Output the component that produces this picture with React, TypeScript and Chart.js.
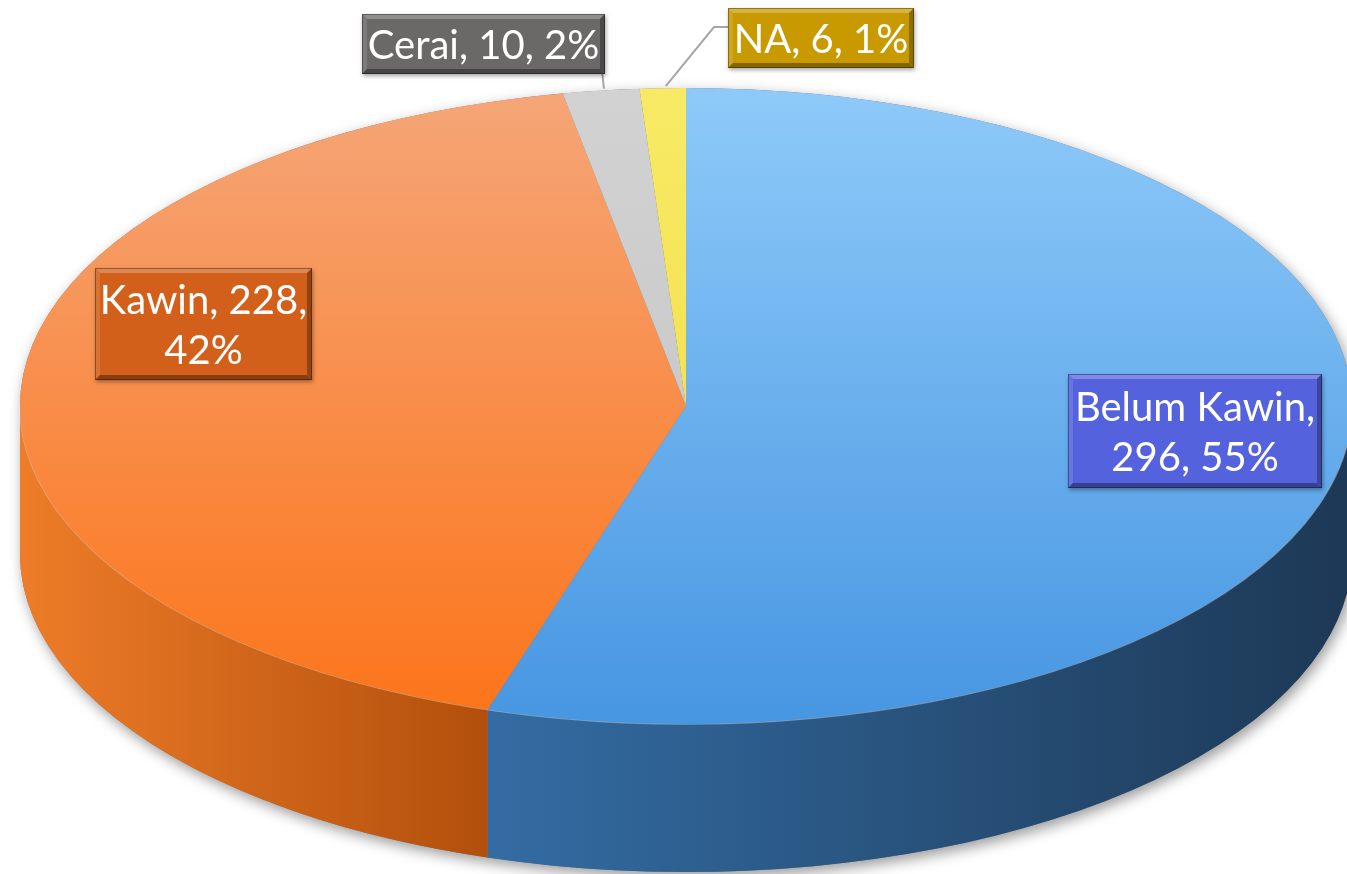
import React, { useEffect, useRef } from 'react';
import { Chart, registerables } from 'chart.js';

Chart.register(...registerables);

// ---- data ----
const categories = ['Belum Kawin', 'Kawin', 'Cerai', 'NA'];
const counts = [296, 228, 10, 6];
const percents = ['55%', '42%', '2%', '1%'];

// ---- colours ----
const topLight = ['#8ecaf9', '#f5a678', '#d2d2d2', '#f8ea66'];
const topDark = ['#4796e2', '#fc7419', '#c2c2c2', '#f1da3c'];
const sideLight = ['#336ca3', '#ee7c28', '#a8a8a8', '#d8c230'];
const sideDark = ['#1d3855', '#b24f0c', '#8a8a8a', '#b8a020'];
const labelColors = ['#5462dd', '#d2601a', '#6b6868', '#c99a00'];

// ---- geometry of the tilted pie (screen space) ----
const CX = 686;
const CY = 406;
const RX = 666;
const RY = 318;
const DEPTH = 148;

// label boxes: [x, y, w, h], number of comma-parts on first line
const labelBoxes = [
  [1068, 374, 254, 114],
  [95, 268, 217, 112],
  [362, 14, 243, 60],
  [728, 8, 186, 60],
];
const firstLineParts = [1, 2, 3, 3];
const FONT = '40px Lato, "Open Sans", sans-serif';

function lerpColor(a: string, b: string, t: number) {
  const pa = [1, 3, 5].map((i) => parseInt(a.slice(i, i + 2), 16));
  const pb = [1, 3, 5].map((i) => parseInt(b.slice(i, i + 2), 16));
  const c = pa.map((v, i) => Math.round(v + (pb[i] - v) * t));
  return `rgb(${c[0]},${c[1]},${c[2]})`;
}

function ellipsePoint(a: number) {
  return { x: CX + RX * Math.cos(a), y: CY + RY * Math.sin(a) };
}

const pie3d = {
  id: 'pie3d',
  beforeDatasetsDraw(chart: any) {
    const ctx: CanvasRenderingContext2D = chart.ctx;
    const arcs = chart.getDatasetMeta(0).data as any[];
    if (!arcs.length) return;
    const p = arcs[0].getProps(['x', 'y', 'outerRadius'], true);

    // soft shadow under the whole disc
    ctx.save();
    ctx.shadowColor = 'rgba(0,0,0,0.4)';
    ctx.shadowBlur = 14;
    ctx.shadowOffsetX = 3;
    ctx.shadowOffsetY = 5;
    ctx.beginPath();
    ctx.ellipse(CX, CY, RX, RY, 0, Math.PI, 2 * Math.PI);
    ctx.ellipse(CX, CY + DEPTH, RX, RY, 0, 0, Math.PI);
    ctx.closePath();
    ctx.fillStyle = '#777';
    ctx.fill();
    ctx.restore();

    // side walls of each slice
    arcs.forEach((arc: any, i: number) => {
      const { startAngle, endAngle } = arc.getProps(['startAngle', 'endAngle'], true);
      for (let k = -1; k <= 1; k++) {
        const s = startAngle + 2 * Math.PI * k;
        const e = endAngle + 2 * Math.PI * k;
        const lo = Math.max(s, 0);
        const hi = Math.min(e, Math.PI);
        if (hi <= lo) continue;
        const xl = CX + RX * Math.cos(hi);
        const xr = CX + RX * Math.cos(lo);
        const g = ctx.createLinearGradient(xl, 0, xr + 0.01, 0);
        g.addColorStop(0, sideLight[i]);
        g.addColorStop(1, sideDark[i]);
        ctx.beginPath();
        ctx.ellipse(CX, CY, RX, RY, 0, lo, hi);
        ctx.ellipse(CX, CY + DEPTH, RX, RY, 0, hi, lo, true);
        ctx.closePath();
        ctx.fillStyle = g;
        ctx.fill();
      }
    });

    // rim highlight
    ctx.save();
    ctx.beginPath();
    ctx.ellipse(CX, CY, RX, RY, 0, 0, Math.PI);
    ctx.strokeStyle = 'rgba(255,255,255,0.35)';
    ctx.lineWidth = 1.5;
    ctx.stroke();
    ctx.restore();

    // top face: squash Chart.js' own circle into the ellipse
    ctx.save();
    ctx.translate(CX, CY);
    ctx.scale(RX / p.outerRadius, RY / p.outerRadius);
    ctx.translate(-p.x, -p.y);
  },
  afterDatasetsDraw(chart: any) {
    chart.ctx.restore();
  },
  afterDraw(chart: any) {
    const ctx: CanvasRenderingContext2D = chart.ctx;
    const arcs = chart.getDatasetMeta(0).data as any[];
    ctx.save();
    // leader lines for small slices
    ctx.strokeStyle = '#a6a6a6';
    ctx.lineWidth = 2;
    [2, 3].forEach((i) => {
      const { startAngle, endAngle } = arcs[i].getProps(['startAngle', 'endAngle'], true);
      const pt = ellipsePoint((startAngle + endAngle) / 2);
      const [bx, by, bw, bh] = labelBoxes[i];
      ctx.beginPath();
      if (i === 2) {
        ctx.moveTo(bx + bw - 3, by + bh - 3);
      } else {
        ctx.moveTo(bx, by + 19);
        ctx.lineTo(bx - 14, by + 19);
      }
      ctx.lineTo(pt.x + 3, pt.y - 2);
      ctx.stroke();
    });

    categories.forEach((cat, i) => {
      const [x, y, w, h] = labelBoxes[i];
      const col = labelColors[i];
      // box with bevel
      ctx.save();
      ctx.shadowColor = 'rgba(0,0,0,0.35)';
      ctx.shadowBlur = 4;
      ctx.shadowOffsetX = 1;
      ctx.shadowOffsetY = 2;
      ctx.fillStyle = col;
      ctx.fillRect(x, y, w, h);
      ctx.restore();
      const b = 5;
      ctx.fillStyle = lerpColor(col, '#ffffff', 0.25);
      ctx.beginPath();
      ctx.moveTo(x, y); ctx.lineTo(x + w, y); ctx.lineTo(x + w - b, y + b); ctx.lineTo(x + b, y + b); ctx.closePath(); ctx.fill();
      ctx.fillStyle = lerpColor(col, '#ffffff', 0.12);
      ctx.beginPath();
      ctx.moveTo(x, y); ctx.lineTo(x + b, y + b); ctx.lineTo(x + b, y + h - b); ctx.lineTo(x, y + h); ctx.closePath(); ctx.fill();
      ctx.fillStyle = lerpColor(col, '#000000', 0.35);
      ctx.beginPath();
      ctx.moveTo(x, y + h); ctx.lineTo(x + w, y + h); ctx.lineTo(x + w - b, y + h - b); ctx.lineTo(x + b, y + h - b); ctx.closePath(); ctx.fill();
      ctx.fillStyle = lerpColor(col, '#000000', 0.3);
      ctx.beginPath();
      ctx.moveTo(x + w, y); ctx.lineTo(x + w, y + h); ctx.lineTo(x + w - b, y + h - b); ctx.lineTo(x + w - b, y + b); ctx.closePath(); ctx.fill();
      ctx.strokeStyle = 'rgba(0,0,0,0.35)';
      ctx.lineWidth = 1;
      ctx.strokeRect(x + 0.5, y + 0.5, w - 1, h - 1);

      // text
      const parts = [cat, String(counts[i]), percents[i]];
      const n = firstLineParts[i];
      const lines: string[] = [];
      const first = parts.slice(0, n).join(', ') + (n < parts.length ? ',' : '');
      lines.push(first);
      if (n < parts.length) lines.push(parts.slice(n).join(', '));
      ctx.fillStyle = '#ffffff';
      ctx.font = FONT;
      ctx.textAlign = 'center';
      ctx.textBaseline = 'middle';
      const lh = 50;
      const startY = y + h / 2 - ((lines.length - 1) * lh) / 2 + 2;
      lines.forEach((ln, j) => ctx.fillText(ln, x + w / 2, startY + j * lh));
    });
    ctx.restore();
  },
};

export default function App() {
  const ref = useRef<HTMLCanvasElement>(null);
  useEffect(() => {
    document.body.style.margin = '0';
    const chart = new Chart(ref.current as HTMLCanvasElement, {
      type: 'pie',
      data: {
        labels: categories,
        datasets: [
          {
            data: counts,
            borderWidth: 0,
            clip: false as any,
            backgroundColor: (c: any) => {
              const i = c.dataIndex ?? 0;
              const area = c.chart.chartArea;
              if (!area) return topDark[i];
              const g = c.chart.ctx.createLinearGradient(0, area.top, 0, area.bottom);
              g.addColorStop(0, topLight[i]);
              g.addColorStop(1, topDark[i]);
              return g;
            },
          },
        ],
      },
      options: {
        responsive: false,
        animation: false,
        devicePixelRatio: 1,
        layout: { padding: 0 },
        plugins: {
          legend: { display: false },
          tooltip: { enabled: false },
        },
      },
      plugins: [pie3d],
    });
    return () => chart.destroy();
  }, []);
  return (
    <div style={{ width: 1347, height: 874, background: '#ffffff' }}>
      <canvas ref={ref} width={1347} height={874} style={{ display: 'block' }} />
    </div>
  );
}
